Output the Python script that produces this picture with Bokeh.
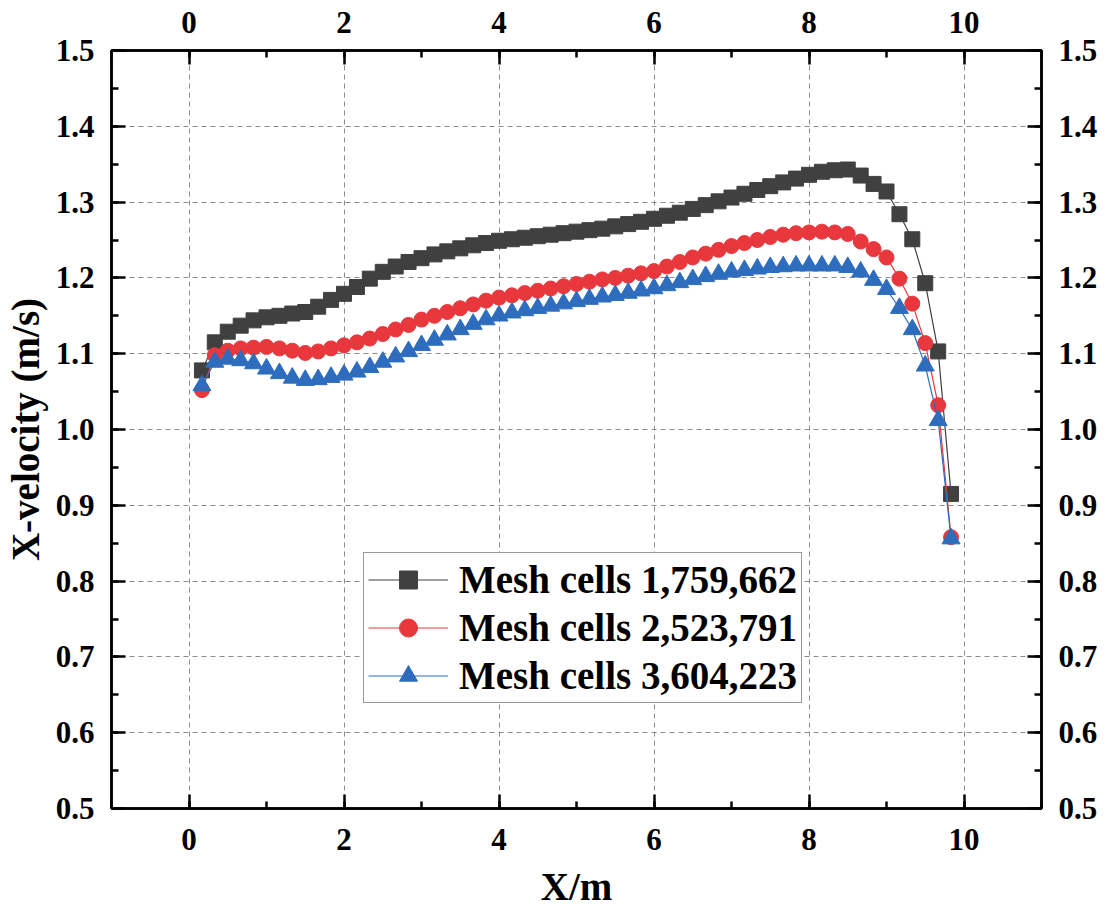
from bokeh.plotting import figure
from bokeh.models import Range1d, LinearAxis, SingleIntervalTicker, PrintfTickFormatter
from bokeh.embed import file_html
from bokeh.resources import INLINE

# ---- data ----
x_m = [0.167, 0.333, 0.5, 0.667, 0.833, 1.0, 1.167, 1.333, 1.5, 1.667, 1.833, 2.0,
       2.167, 2.333, 2.5, 2.667, 2.833, 3.0, 3.167, 3.333, 3.5, 3.667, 3.833, 4.0,
       4.167, 4.333, 4.5, 4.667, 4.833, 5.0, 5.167, 5.333, 5.5, 5.667, 5.833, 6.0,
       6.167, 6.333, 6.5, 6.667, 6.833, 7.0, 7.167, 7.333, 7.5, 7.667, 7.833, 8.0,
       8.167, 8.333, 8.5, 8.667, 8.833, 9.0, 9.167, 9.333, 9.5, 9.667, 9.833]

v_mesh1 = [1.078, 1.115, 1.129, 1.137, 1.144, 1.148, 1.150, 1.153, 1.155, 1.162, 1.171, 1.179,
           1.188, 1.199, 1.208, 1.215, 1.221, 1.226, 1.231, 1.235, 1.239, 1.243, 1.246, 1.249,
           1.251, 1.253, 1.255, 1.257, 1.259, 1.261, 1.263, 1.265, 1.268, 1.271, 1.274, 1.278,
           1.282, 1.286, 1.291, 1.296, 1.301, 1.306, 1.311, 1.316, 1.321, 1.326, 1.331, 1.336,
           1.340, 1.342, 1.343, 1.335, 1.324, 1.314, 1.284, 1.251, 1.193, 1.103, 0.915]

v_mesh2 = [1.052, 1.098, 1.104, 1.107, 1.108, 1.109, 1.107, 1.104, 1.101, 1.103, 1.107, 1.111,
           1.115, 1.120, 1.126, 1.132, 1.138, 1.145, 1.150, 1.155, 1.160, 1.165, 1.170, 1.174,
           1.177, 1.180, 1.183, 1.186, 1.189, 1.192, 1.195, 1.198, 1.200, 1.203, 1.206, 1.209,
           1.215, 1.221, 1.227, 1.232, 1.237, 1.242, 1.246, 1.250, 1.254, 1.257, 1.259, 1.260,
           1.261, 1.260, 1.258, 1.248, 1.238, 1.227, 1.199, 1.166, 1.114, 1.032, 0.858]

v_mesh3 = [1.058, 1.089, 1.093, 1.091, 1.087, 1.080, 1.074, 1.068, 1.065, 1.066, 1.069, 1.072,
           1.076, 1.082, 1.089, 1.096, 1.103, 1.111, 1.118, 1.125, 1.132, 1.139, 1.145, 1.150,
           1.154, 1.157, 1.160, 1.163, 1.166, 1.169, 1.172, 1.175, 1.177, 1.180, 1.183, 1.186,
           1.190, 1.194, 1.198, 1.202, 1.205, 1.208, 1.210, 1.212, 1.214, 1.215, 1.216, 1.216,
           1.216, 1.216, 1.214, 1.208, 1.197, 1.185, 1.160, 1.132, 1.084, 1.012, 0.856]

labels = ["Mesh cells 1,759,662", "Mesh cells 2,523,791", "Mesh cells 3,604,223"]

FONT = "Liberation Serif"

p = figure(width=1100, height=916, output_backend="svg", toolbar_location=None,
           x_range=Range1d(-1, 11), y_range=Range1d(0.5, 1.5),
           min_border_left=108, min_border_right=54, min_border_top=50, min_border_bottom=108)

p.outline_line_color = "black"
p.outline_line_width = 2.5
p.background_fill_color = "white"
p.border_fill_color = "white"

bottom_ax = p.below[0]
left_ax = p.left[0]
bottom_ax.ticker = SingleIntervalTicker(interval=2, num_minor_ticks=2)
left_ax.ticker = SingleIntervalTicker(interval=0.1, num_minor_ticks=2)

top_ax = LinearAxis(ticker=SingleIntervalTicker(interval=2, num_minor_ticks=2))
right_ax = LinearAxis(ticker=SingleIntervalTicker(interval=0.1, num_minor_ticks=2))
p.add_layout(top_ax, "above")
p.add_layout(right_ax, "right")

for ax in [left_ax, right_ax]:
    ax.formatter = PrintfTickFormatter(format="%.1f")

for ax in [bottom_ax, left_ax, top_ax, right_ax]:
    ax.major_tick_in = 14
    ax.major_tick_out = 0
    ax.minor_tick_in = 7
    ax.minor_tick_out = 0
    ax.axis_line_width = 2.5
    ax.major_tick_line_width = 2.5
    ax.minor_tick_line_width = 2.5
    ax.axis_line_color = "black"
    ax.major_label_text_font = FONT
    ax.major_label_text_font_style = "bold"
    ax.major_label_text_font_size = "31px"
    ax.major_label_text_color = "black"
    ax.major_label_standoff = 17
bottom_ax.major_label_standoff = 20
top_ax.major_label_standoff = 18

bottom_ax.axis_label = "X/m"
left_ax.axis_label = "X-velocity (m/s)"
for ax in [bottom_ax, left_ax]:
    ax.axis_label_text_font = FONT
    ax.axis_label_text_font_style = "bold"
    ax.axis_label_text_font_size = "39px"
    ax.axis_label_text_color = "black"
bottom_ax.axis_label_standoff = 12
left_ax.axis_label_standoff = 6

p.xgrid.grid_line_color = "#8c8c8c"
p.xgrid.grid_line_dash = "5 4"
p.xgrid.grid_line_width = 1
p.ygrid.grid_line_color = "#8c8c8c"
p.ygrid.grid_line_dash = "5 4"
p.ygrid.grid_line_width = 1

c1, c2, c3 = "#404040", "#E8383D", "#2E6DBE"

p.line(x_m, v_mesh1, line_color=c1, line_width=1.2, legend_label=labels[0])
p.scatter(x_m, v_mesh1, marker="square", size=15, fill_color=c1, line_color=c1,
          legend_label=labels[0])
p.line(x_m, v_mesh2, line_color=c2, line_width=1.2, legend_label=labels[1])
p.scatter(x_m, v_mesh2, marker="circle", size=15, fill_color=c2, line_color=c2,
          legend_label=labels[1])
p.line(x_m, v_mesh3, line_color=c3, line_width=1.2, legend_label=labels[2])
p.scatter(x_m, v_mesh3, marker="triangle", size=18, fill_color=c3, line_color=c3,
          legend_label=labels[2])

lg = p.legend[0]
lg.location = (252, 105)
lg.label_text_font = FONT
lg.label_text_font_style = "bold"
lg.label_text_font_size = "39px"
lg.label_text_color = "black"
lg.glyph_width = 80
lg.glyph_height = 45
lg.label_height = 45
lg.label_standoff = 11
lg.spacing = 3
lg.padding = 4
lg.margin = 0
lg.border_line_color = "#333333"
lg.border_line_width = 1.5
lg.background_fill_alpha = 1.0

open("out.html", "w").write(file_html(p, INLINE))
